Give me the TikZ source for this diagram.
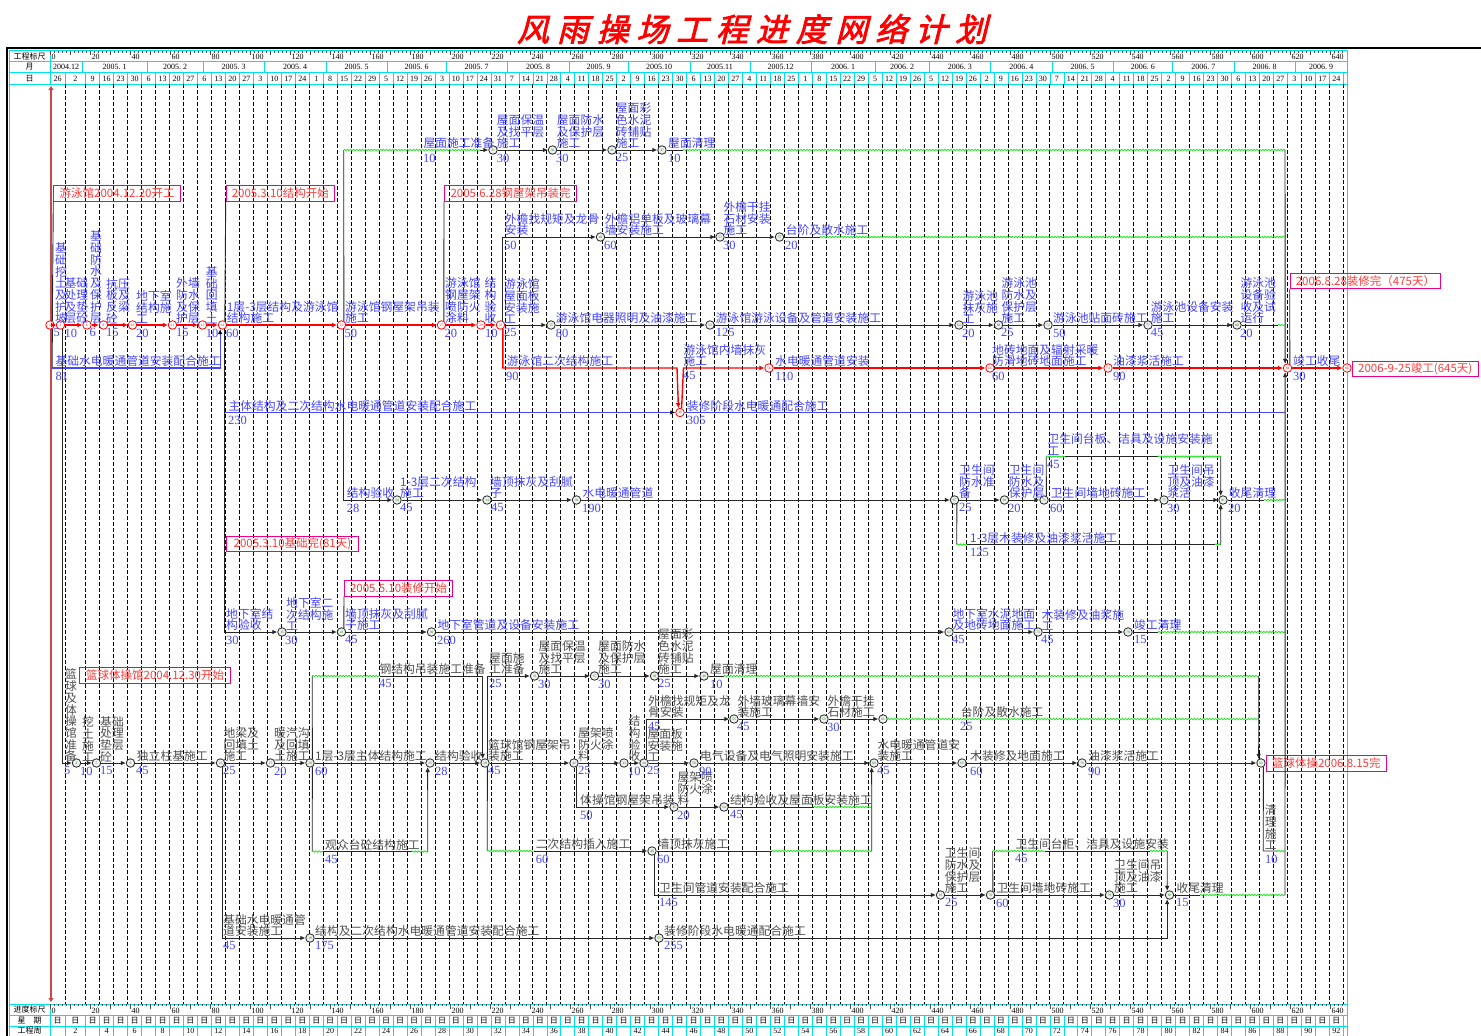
\documentclass[tikz,border=0pt]{standalone}
\usepackage{fontspec}
\setmainfont{Liberation Serif}
\newfontfamily\cjk{Noto Sans CJK SC}
\newfontfamily\cjktitle[FakeSlant=0.25,FakeBold=2.5]{Noto Sans CJK SC}
\usetikzlibrary{arrows.meta,decorations.pathmorphing}
\definecolor{lblue}{RGB}{70,70,255}
\definecolor{lgray}{RGB}{80,80,80}
\definecolor{cyanline}{RGB}{0,225,235}
\definecolor{wavy}{RGB}{30,230,30}
\definecolor{boxred}{RGB}{255,60,60}
\definecolor{dateline}{RGB}{195,75,75}
\setlength{\lineskiplimit}{-4pt}

\begin{document}
\begin{tikzpicture}[x=1pt, y=-1pt,
    evt/.style={circle, draw=black!85, fill=black!6, line width=0.8pt,
                minimum size=8.5pt, inner sep=0pt, text=green!55!black,
                font=\fontsize{3.5}{3.5}\selectfont},
    cevt/.style={evt, draw=red, fill=white, text=red},
    seg/.style={draw=black!85, line width=0.9pt},
    arr/.style={seg, -{Latex[length=5pt,width=4.5pt]}},
    crit/.style={draw=red, line width=1.4pt, -{Latex[length=5pt,width=5pt]}},
    bseg/.style={draw=lblue, line width=1.2pt},
    barr/.style={bseg, -{Latex[length=5pt,width=4.5pt,color=black]}},
    freeflt/.style={draw=wavy, line width=0.8pt, decorate,
                    decoration={snake, amplitude=0.7pt, segment length=3pt}},
    lab/.style={anchor=south west, inner sep=0pt, align=left, text=lblue,
                font=\cjk\fontsize{11.8}{11.7}\selectfont},
    glab/.style={lab, text=lgray},
    dlab/.style={anchor=north west, inner sep=0pt, text=lblue,
                 font=\fontsize{12.5}{12.5}\selectfont},
    datebox/.style={draw=magenta, line width=0.9pt, text=boxred, anchor=west,
                    minimum height=15.5pt, inner xsep=2pt, inner ysep=0pt,
                    font=\cjk\fontsize{11.5}{11.5}\selectfont},
    weekln/.style={draw=black, line width=0.7pt, dash pattern=on 3.5pt off 2.5pt},
    cyln/.style={draw=cyanline, line width=0.6pt},
    tick/.style={draw=black!70, line width=0.4pt},
    hdr/.style={inner sep=0pt, font=\fontsize{8}{8}\selectfont},
    hdrc/.style={inner sep=0pt, font=\cjk\fontsize{8}{8}\selectfont},
    title/.style={inner sep=0pt, text=red, font=\cjktitle\fontsize{32}{32}\selectfont}]
\useasboundingbox (0,0) rectangle (1481,1036);
\fill[white] (0,0) rectangle (1481,1036);

\node[title] (ttl) at (752,29) {\makebox[470pt][s]{风\hfill 雨\hfill 操\hfill 场\hfill 工\hfill 程\hfill 进\hfill 度\hfill 网\hfill 络\hfill 计\hfill 划}};

% frame and time scale
\draw[line width=2.6pt] (7,48) -- (1481,48);
\draw[line width=2.6pt] (7,46.7) -- (7,1036);
\draw[cyln] (9.5,50.5) rectangle (1347,1036);
\foreach \y in {61.5,72.5,84,1004,1015,1026} \draw[cyln] (9.5,\y) -- (1347,\y);
\draw[cyln] (50,50.5) -- (50,84);
\draw[cyln] (50,1004) -- (50,1036);
\node[hdrc] (h1) at (29.5,56.5) {工程标尺};
\node[hdrc] (h2) at (29.5,67) {月};
\node[hdrc] (h3) at (29.5,78.3) {日};
\node[hdrc] (h4) at (29.5,1009.7) {进度标尺};
\node[hdrc] (h5) at (29.5,1020.5) {星\quad 期};
\node[hdrc] (h6) at (29.5,1031) {工程周};
\foreach \d in {0,2,...,646} {
  \draw[tick] (50+2*\d,50.5) -- (50+2*\d,52.5);
  \draw[tick] (50+2*\d,1004) -- (50+2*\d,1006);
}
\foreach \d in {0,10,...,640} {
  \draw[tick] (50+2*\d,50.5) -- (50+2*\d,55);
  \draw[tick] (50+2*\d,1004) -- (50+2*\d,1008.5);
}
\foreach \d [count=\i] in {0,20,...,640} {
  \node[hdr, anchor=west] (rt\i) at (51.5+2*\d,57) {\d};
  \node[hdr, anchor=west] (rb\i) at (51.5+2*\d,1010.5) {\d};
}
\foreach \a/\b/\t [count=\i] in {50/82/2004.12, 82/147/2005.~1, 147/203/2005.~2,
    203/264/2005.~3, 264/326/2005.~4, 326/387/2005.~5, 387/446/2005.~6,
    446/507/2005.~7, 507/569/2005.~8, 569/628/2005.~9, 628/690/2005.10,
    690/750/2005.11, 750/811/2005.12, 811/875/2006.~1, 875/929/2006.~2,
    929/990.5/2006.~3, 990.5/1052/2006.~4, 1052/1113/2006.~5, 1113/1172.5/2006.~6,
    1172.5/1234/2006.~7, 1234/1295/2006.~8, 1295/1347/2006.~9} {
  \draw[cyln] (\b,61.5) -- (\b,72.5);
  \node[hdr] (mo\i) at ({(\a+\b)/2},67.2) {\t};
}
% week lines
\draw[weekln] (65,84) -- (65,1004);
\draw[cyln] (65,72.5) -- (65,84);
\draw[cyln] (65,1015) -- (65,1036);
\foreach \m in {0,...,90} {
  \draw[weekln] (85.7+13.973*\m,84) -- (85.7+13.973*\m,1004);
  \draw[cyln] (85.7+13.973*\m,72.5) -- (85.7+13.973*\m,84);
  \draw[cyln] (85.7+13.973*\m,1015) -- (85.7+13.973*\m,1036);
}
\node[hdr] (dy0) at (57.5,78.5) {26};
\node[hdr] (dy1) at (75.3,78.5) {2};
\foreach \d [count=\j] in {9,16,23,30,6,13,20,27,6,13,20,27,3,10,17,24,1,8,15,22,29,
    5,12,19,26,3,10,17,24,31,7,14,21,28,4,11,18,25,2,9,16,23,30,6,13,20,27,4,11,18,25,
    1,8,15,22,29,5,12,19,26,5,12,19,26,2,9,16,23,30,7,14,21,28,4,11,18,25,2,9,16,23,30,
    6,13,20,27,3,10,17,24}
  \node[hdr] (dz\j) at (78.71+13.973*\j,78.5) {\d};
\node[hdrc] (wd0) at (57.5,1020.5) {日};
\node[hdrc] (wd1) at (75.3,1020.5) {日};
\foreach \j in {1,...,90} \node[hdrc] (wy\j) at (78.71+13.973*\j,1020.5) {日};
\node[hdr] (gz1) at (75.3,1031.2) {2};
\foreach \k [evaluate=\k as \w using int(2*\k)] in {2,...,46}
  \node[hdr] (gz\k) at (50.76+27.946*\k,1031.2) {\w};
\coordinate (dl1) at (51,86);
\coordinate (dl2) at (51,1002);
\draw[dateline, line width=1.2pt, {Triangle[length=4pt,width=5pt]}-{Triangle[length=4pt,width=5pt]}] (dl1) -- (dl2);

% events, natatorium
\node[cevt] (e1) at (50,325) {1};
\node[cevt] (e2) at (60.5,325) {2};
\node[cevt] (e6) at (87,325) {6};
\node[cevt] (e8) at (103.5,325) {8};
\node[cevt] (e10) at (132.5,325) {10};
\node[cevt] (e11) at (172.5,325) {11};
\node[cevt] (e12) at (202.5,325) {12};
\node[cevt] (e14) at (222.5,325) {14};
\node[cevt] (e23) at (341.5,325) {23};
\node[cevt] (e27) at (441.5,325) {27};
\node[cevt] (e29) at (481,325) {29};
\node[cevt] (e33) at (500.5,325) {33};
\node[evt] (e35) at (551,325) {35};
\node[evt] (e52) at (710,325) {52};
\node[evt] (e64) at (959,325) {64};
\node[evt] (e68) at (998.5,325) {68};
\node[evt] (e72) at (1048,325) {72};
\node[evt] (e77) at (1148,325) {77};
\node[evt] (e80) at (1237,325) {80};
\node[evt] (e31) at (493,150) {31};
\node[evt] (e36) at (552.5,150) {36};
\node[evt] (e41) at (612,150) {41};
\node[evt] (e47) at (662,150) {47};
\node[evt] (e49) at (600.5,237) {49};
\node[evt] (e53) at (720,237) {53};
\node[evt] (e57) at (779.5,237) {57};
\node[cevt] (e48) at (680,412.5) {48};
\node[cevt] (e56) at (769,368) {56};
\node[cevt] (e66) at (990,368) {66};
\node[cevt] (e74) at (1108,368) {74};
\node[cevt] (e84) at (1287.5,368) {84};
\node[cevt] (e86) at (1347,368) {86};
\node[evt] (e24) at (397,500) {24};
\node[evt] (e34) at (487,500) {34};
\node[evt] (e39) at (576.5,500) {39};
\node[evt] (e67) at (954.5,500) {67};
\node[evt] (e69) at (1004.5,500) {69};
\node[evt] (e71) at (1044,500) {71};
\node[evt] (e75) at (1164,500) {75};
\node[evt] (e81) at (1223,500) {81};
\node[evt] (e15) at (282,632) {15};
\node[evt] (e22) at (341.5,632) {22};
\node[evt] (e30) at (431.5,632) {30};
\node[evt] (e62) at (949,632) {62};
\node[evt] (e73) at (1038,632) {73};
\node[evt] (e78) at (1128,632) {78};
% events, gymnasium
\node[evt] (e4) at (76.5,763) {4};
\node[evt] (e7) at (96.5,763) {7};
\node[evt] (e9) at (130.5,763) {9};
\node[evt] (e13) at (220.5,763) {13};
\node[evt] (e17) at (270.5,763) {17};
\node[evt] (e20) at (310,763) {20};
\node[evt] (e25) at (430,763) {25};
\node[evt] (e28) at (485,763) {28};
\node[evt] (e42) at (574,763) {42};
\node[evt] (e43) at (624,763) {43};
\node[evt] (e44) at (644,763) {44};
\node[evt] (e50) at (694,763) {50};
\node[evt] (e60) at (874,763) {60};
\node[evt] (e65) at (962,763) {65};
\node[evt] (e76) at (1082,763) {76};
\node[evt] (e82) at (1261,763) {82};
\node[evt] (e32) at (534.5,676) {32};
\node[evt] (e37) at (594.5,676) {37};
\node[evt] (e38) at (654.5,676) {38};
\node[evt] (e40) at (704,676) {40};
\node[evt] (e55) at (734,719) {55};
\node[evt] (e59) at (824,719) {59};
\node[evt] (e61) at (883,719) {61};
\node[evt] (e45) at (674,807) {45};
\node[evt] (e54) at (724,807) {54};
\node[evt] (e46) at (652,851) {46};
\node[evt] (e63) at (940.5,895) {63};
\node[evt] (e70) at (990.5,895) {70};
\node[evt] (e79) at (1109.5,895) {79};
\node[evt] (e83) at (1169.5,895) {83};
\node[evt] (e19) at (310,938) {19};
\node[evt] (e51) at (659,938) {51};

% date boxes
\node[datebox, minimum width=126.7pt] (b1) at (53.3,193.3) {游泳馆2004.12.20开工};
\node[datebox, minimum width=108.3pt] (b2) at (225.7,193.3) {2005.3.10结构开始};
\node[datebox, minimum width=132.3pt] (b3) at (444,193.3) {2005.6.28钢屋架吊装完};
\node[datebox, minimum width=132.6pt] (b4) at (225.7,544) {2005.3.10基础完(81天)};
\node[datebox, minimum width=108.3pt] (b5) at (344,588.2) {2005.5.10装修开始};
\node[datebox, minimum width=150.6pt] (b6) at (1289.7,280.8) {2006.8.28装修完（475天）};
\node[datebox, minimum width=126.6pt] (b7) at (1351.5,368.7) {2006-9-25竣工(645天)};
\node[datebox, minimum width=150.7pt] (b8) at (79.3,675.5) {篮球体操馆2004.12.30开始};
\node[datebox, minimum width=120.7pt] (b9) at (1265.5,763.3) {篮球体操2006.8.15完};

% free ends of connectors
\coordinate (g1) at (343.75,150);
\coordinate (g2) at (480,150);
\coordinate (g3) at (683,150);
\coordinate (v1) at (1285,150);
\coordinate (g4) at (820,237);
\coordinate (g5) at (1285,237);
\coordinate (g6) at (1278,325);
\coordinate (g7) at (1285,325);
\coordinate (b0) at (52.25,368);
\coordinate (rc1) at (677,368);
\coordinate (rc2) at (683.5,368);
\coordinate (bl1) at (224.75,412.5);
\coordinate (bl2) at (1285,412.5);
\coordinate (w1) at (1046.25,456.5);
\coordinate (w2) at (1065,456.5);
\coordinate (w3) at (1158,456.5);
\coordinate (w4) at (1220.75,456.5);
\coordinate (g8) at (1264,500);
\coordinate (g9) at (1285,500);
\coordinate (m0) at (956.75,544.5);
\coordinate (m1) at (967,544.5);
\coordinate (m2) at (1215,544.5);
\coordinate (m3) at (1220.75,544.5);
\coordinate (g10) at (1158,632);
\coordinate (g11) at (1285,632);
\coordinate (s0) at (312.25,676);
\coordinate (s1) at (380,676);
\coordinate (r5) at (724,676);
\coordinate (zr) at (1258.75,676);
\coordinate (zt) at (1258.75,719);
\coordinate (o1) at (814,807);
\coordinate (o2) at (871.75,807);
\coordinate (t0) at (487.25,851);
\coordinate (t1) at (534,851);
\coordinate (u1) at (772,851);
\coordinate (u2) at (871.75,851);
\coordinate (q0) at (312.25,851.5);
\coordinate (q1) at (323,851.5);
\coordinate (q2) at (412,851.5);
\coordinate (q3) at (427.75,851.5);
\coordinate (p0) at (992.75,851);
\coordinate (p1) at (1045,851);
\coordinate (p2) at (1150,851);
\coordinate (p3) at (1167.25,851);
\coordinate (y1) at (1263.25,851);
\coordinate (y2) at (1278,851);
\coordinate (y3) at (1285,851);
\coordinate (g12) at (1200,895);
\coordinate (v2) at (1285,895);

% connectors
\foreach \p/\q in {e1/e2, e2/e6, e6/e8, e8/e10, e10/e11, e11/e12, e12/e14, e14/e23,
    e23/e27, e27/e29, e29/e33, e56/e66, e66/e74, e74/e84, e84/e86}
  \draw[crit] (\p) -- (\q);
\foreach \p/\q in {e33/e35, e35/e52, e52/e64, e64/e68, e68/e72, e72/e77, e77/e80,
    e31/e36, e36/e41, e41/e47, e49/e53, e53/e57, e24/e34, e34/e39, e39/e67, e67/e69,
    e69/e71, e71/e75, e75/e81, e15/e22, e22/e30, e30/e62, e62/e73, e73/e78,
    e4/e7, e7/e9, e9/e13, e13/e17, e17/e20, e20/e25, e25/e28, e28/e42, e42/e43,
    e43/e44, e44/e50, e50/e60, e60/e65, e65/e76, e76/e82, e32/e37, e37/e38, e38/e40,
    e55/e59, e59/e61, e45/e54, e63/e70, e70/e79, e79/e83, e19/e51}
  \draw[arr] (\p) -- (\q);
\draw[seg] (e23.60) -- (g1);
\draw[freeflt] (g1) -- (g2);
\draw[arr] (g2) -- (e31);
\draw[seg] (e47) -- (g3);
\draw[freeflt] (g3) -- (v1);
\draw[arr] (v1) -- (e84.120);
\draw[arr] (e33.60) |- (e49);
\draw[seg] (e57) -- (g4);
\draw[freeflt] (g4) -- (g5);
\draw[seg] (e80) -- (g6);
\draw[freeflt] (g6) -- (g7);
\draw[seg] (e1.-60) -- (b0);
\draw[barr] (b0) -| (e14.-120);
\draw[crit] (e33.-60) |- (rc1) -- (e48.110);
\draw[crit] (e48.70) -- (rc2) -- (e56);
\draw[arr] (e14.-60) |- (e15);
\draw[barr] (bl1) -- (e48);
\draw[bseg] (e48) -- (bl2);
\draw[arr] (e23.-60) |- (e24);
\draw[seg] (e71.60) -- (w1);
\draw[freeflt] (w1) -- (w2);
\draw[seg] (w2) -- (w3);
\draw[freeflt] (w3) -- (w4);
\draw[arr] (w4) -- (e81.120);
\draw[seg] (e81) -- (g8);
\draw[freeflt] (g8) -- (g9);
\draw[seg] (e67.-60) -- (m0);
\draw[freeflt] (m0) -- (m1);
\draw[seg] (m1) -- (m2);
\draw[freeflt] (m2) -- (m3);
\draw[arr] (m3) -- (e81.-120);
\draw[seg] (e78) -- (g10);
\draw[freeflt] (g10) -- (g11);
\draw[arr] (e2.-60) |- (e4);
\draw[seg] (e20.60) -- (s0);
\draw[freeflt] (s0) -- (s1);
\draw[arr] (s1) -| (e28.120);
\draw[arr] (e28.60) |- (e32);
\draw[seg] (e40) -- (r5);
\draw[freeflt] (r5) -- (zr);
\draw[freeflt] (e61) -- (zt);
\draw[arr] (zr) -- (e82.120);
\draw[arr] (e44.60) |- (e55);
\draw[arr] (e42.-60) |- (e45);
\draw[seg] (e54) -- (o1);
\draw[freeflt] (o1) -- (o2);
\draw[seg] (e28.-60) -- (t0);
\draw[freeflt] (t0) -- (t1);
\draw[arr] (t1) -- (e46);
\draw[seg] (e46) -- (u1);
\draw[freeflt] (u1) -- (u2);
\draw[arr] (u2) -- (e60.-120);
\draw[arr] (e46.-60) |- (e63);
\draw[seg] (e20.-60) -- (q0);
\draw[freeflt] (q0) -- (q1);
\draw[seg] (q1) -- (q2);
\draw[freeflt] (q2) -- (q3);
\draw[arr] (q3) -- (e25.-120);
\draw[seg] (e70.60) -- (p0);
\draw[freeflt] (p0) -- (p1);
\draw[seg] (p1) -- (p2);
\draw[freeflt] (p2) -- (p3);
\draw[arr] (p3) -- (e83.120);
\draw[seg] (e82.-60) -- (y1) -- (y2);
\draw[freeflt] (y2) -- (y3);
\draw[seg] (e83) -- (g12);
\draw[freeflt] (g12) -- (v2);
\draw[arr] (v2) -- (e84.-120);
\draw[arr] (e13.-60) |- (e19);
\draw[arr] (e51) -| (e83.-120);
\draw[seg] (b1.south west) -- (e1.60);
\draw[seg] (b2.south west) -- (e14.60);
\draw[seg] (b3.south west) -- (e27.60);
\draw[seg] (b5.south west) -- (e22.60);
\draw[seg] (b6.south west) -- (e84.60);

% activity names, natatorium
\foreach \x/\y/\t [count=\i] in {
  55/325/{基\\础\\挖\\土\\及\\护\\坡}, 64.3/325/{基础\\处理\\及垫\\层砼},
  90/325/{基\\础\\防\\水\\及\\保\\护\\层}, 106/325/{抗压\\板及\\反梁\\砼},
  136/325/{地下室\\结构施\\工}, 176/325/{外墙\\防水\\及保\\护层},
  205.7/325/{基\\础\\回\\填\\土}, 226.7/325/{1层-3层结构及游泳馆\\结构施工},
  345/325/{游泳馆钢屋架吊装\\施工}, 445/325/{游泳馆\\钢屋架\\喷防火\\涂料},
  484.5/325/{结\\构\\验\\收}, 504/325/{游泳馆\\屋面板\\安装施\\工},
  555.7/325/{游泳馆电器照明及油漆施工}, 715.7/325/{游泳馆游泳设备及管道安装施工},
  962.3/325/{游泳池\\抹灰施\\工}, 1001.3/325/{游泳池\\防水及\\保护层\\施工},
  1053/325/{游泳池贴面砖施工}, 1150.7/325/{游泳池设备安装\\施工},
  1240.3/325/{游泳池\\设备验\\收及试\\运行},
  423.3/150/{屋面施工准备}, 496.7/150/{屋面保温\\及找平层\\施工},
  556.7/150/{屋面防水\\及保护层\\施工}, 615.7/150/{屋面彩\\色水泥\\砖铺贴\\施工},
  668/150/{屋面清理},
  504.7/237/{外檐找规矩及龙骨\\安装}, 604.7/237/{外檐铝单板及玻璃幕\\墙安装施工},
  723.3/237/{外檐干挂\\石材安装\\施工}, 785.7/237/{台阶及散水施工},
  506.7/368/{游泳馆二次结构施工}, 683.3/368/{游泳馆内墙抹灰\\施工},
  775/368/{水电暖通管道安装}, 992/368/{地砖地面及辐射采暖\\防滑地砖地面施工},
  1113/368/{油漆浆活施工}, 1293/368/{竣工收尾},
  55.3/368/{基础水电暖通管道安装配合施工},
  228.3/412.5/{主体结构及二次结构水电暖通管道安装配合施工},
  686.7/412.5/{装修阶段水电暖通配合施工},
  346.7/500/{结构验收}, 400/500/{1-3层二次结构\\施工}, 490/500/{墙顶抹灰及刮腻\\子},
  582.3/500/{水电暖通管道}, 959/500/{卫生间\\防水准\\备},
  1008.7/500/{卫生间\\防水及\\保护层}, 1050.7/500/{卫生间墙地砖施工},
  1167.3/500/{卫生间吊\\顶及油漆\\浆活}, 1228.7/500/{收尾清理},
  1047.3/456.5/{卫生间台板、洁具及设施安装施\\工},
  970/544.5/{1-3层木装修及油漆浆活施工},
  226/632/{地下室结\\构验收}, 286/632/{地下室二\\次结构施\\工},
  345/632/{墙顶抹灰及刮腻\\子施工}, 437.3/632/{地下室管道及设备安装施工},
  952.3/632/{地下室水泥地面\\及地砖地面施工}, 1041.3/632/{木装修及油浆施\\工},
  1134/632/{竣工清理}}
  \node[lab] (la\i) at (\x,\y-1) {\t};

% activity names, gymnasium
\foreach \x/\y/\t [count=\i] in {
  65/763/{篮\\球\\及\\体\\操\\馆\\准\\备}, 82/763/{挖\\土\\施\\工},
  100/763/{基础\\处理\\垫层\\砼}, 136.7/763/{独立柱基施工},
  223.3/763/{地梁及\\回填土\\施工}, 274/763/{暖汽沟\\及回填\\土施工},
  315/763/{1层-3层主体结构施工}, 435/763/{结构验收},
  488/763/{篮球馆钢屋架吊\\装施工}, 578/763/{屋架喷\\防火涂\\料},
  628.5/763/{结\\构\\验\\收}, 647.3/763/{屋面板\\安装施\\工},
  700/763/{电气设备及电气照明安装施工}, 877.3/763/{水电暖通管道安\\装施工},
  970/763/{木装修及地面施工}, 1088/763/{油漆浆活施工},
  379.3/676/{钢结构吊装施工准备}, 489/676/{屋面施\\工准备},
  538.3/676/{屋面保温\\及找平层\\施工}, 598/676/{屋面防水\\及保护层\\施工},
  658/676/{屋面彩\\色水泥\\砖铺贴\\施工}, 710/676/{屋面清理},
  648/719/{外檐找规矩及龙\\骨安装}, 737.3/719/{外墙玻璃幕墙安\\装施工},
  827.3/719/{外檐干挂\\石材施工}, 960.7/719/{台阶及散水施工},
  580/807/{体操馆钢屋架吊装}, 677.3/807/{屋架喷\\防火涂\\料},
  730/807/{结构验收及屋面板安装施工},
  325/851.5/{观众台砼结构施工}, 535.7/851/{二次结构插入施工},
  657.3/851/{墙顶抹灰施工}, 1015.3/851/{卫生间台柜、洁具及设施安装},
  1264.7/851/{清\\理\\施\\工},
  659/895/{卫生间管道安装配合施工}, 944.7/895/{卫生间\\防水及\\保护层\\施工},
  996.3/895/{卫生间墙地砖施工}, 1114/895/{卫生间吊\\顶及油漆\\施工},
  1176.3/895/{收尾清理},
  223/938/{基础水电暖通管\\道安装施工},
  315/938/{结构及二次结构水电暖通管道安装配合施工},
  664/938/{装修阶段水电暖通配合施工}}
  \node[glab] (lg\i) at (\x,\y-1) {\t};

% durations
\foreach \x/\y/\t [count=\i] in {
  53.3/325/5, 64.3/325/10, 89.3/325/6, 106/325/15, 136/325/20, 176/325/15,
  205.7/325/10, 226/325/60, 344.3/325/50, 444.3/325/20, 485/325/10, 504/325/25,
  555.7/325/80, 715.7/325/125, 962/325/20, 1001/325/25, 1053/325/50,
  1150.7/325/45, 1240/325/20,
  423/150/10, 496.7/150/30, 556/150/30, 615.7/150/25, 668/150/10,
  504/237/50, 604/237/60, 723/237/30, 785/237/20,
  506/368/90, 683/368/45, 775/368/110, 992/368/60, 1113/368/90, 1293/368/30,
  55.3/368/81, 228/412.5/230, 686.7/412.5/305,
  346.7/500/28, 400/500/45, 491/500/45, 582/500/190, 959/500/25, 1008/500/20,
  1050/500/60, 1167/500/30, 1228/500/20, 1047/456.5/45, 970/544.5/125,
  226/632/30, 285/632/30, 345/632/45, 437/632/260, 952/632/45, 1041/632/45,
  1134/632/15,
  64/763/5, 80/763/10, 100/763/15, 136/763/45, 223/763/25, 274/763/20,
  315/763/60, 435/763/28, 488/763/45, 578/763/25, 628/763/10, 647/763/25,
  699/763/90, 877/763/45, 970/763/60, 1088/763/90,
  379/676/45, 489/676/25, 538/676/30, 598/676/30, 658/676/25, 710/676/10,
  648/719/45, 737/719/45, 827/719/30, 960/719/25,
  580/807/50, 677/807/20, 730/807/45,
  325/851.5/45, 535.7/851/60, 657/851/60, 1015/851/45, 1265/851/10,
  659/895/145, 945/895/25, 996/895/60, 1113/895/30, 1176/895/15,
  223/938/45, 315/938/175, 664/938/255}
  \node[dlab] (du\i) at (\x,\y+3.5) {\t};
\end{tikzpicture}
\end{document}
